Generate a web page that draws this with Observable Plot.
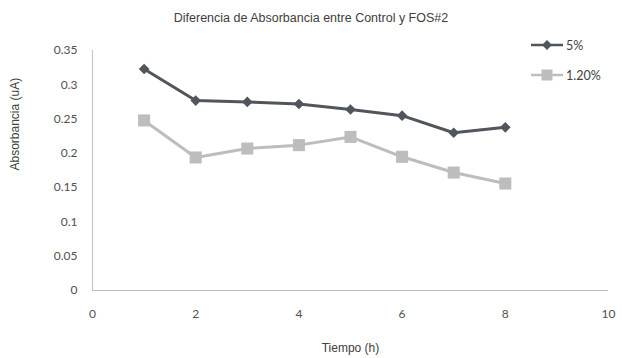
<!DOCTYPE html>
<html>
<head>
<meta charset="utf-8">
<script src="https://cdn.jsdelivr.net/npm/d3@7"></script>
<script src="https://cdn.jsdelivr.net/npm/@observablehq/plot@0.6"></script>
<style>
  html, body { margin: 0; padding: 0; background: #fff; }
  #chart { position: relative; width: 622px; height: 358px; font-family: "Liberation Sans", Arial, sans-serif; }
  #chart svg.plot { position: absolute; left: 0; top: 0; }
  .title { position: absolute; left: 0; width: 622px; top: 11px; text-align: center; font-size: 12.5px; color: #404040; }
  .legend { position: absolute; left: 531px; top: 36px; font-family: Lato, "Open Sans", sans-serif; font-size: 12.5px; color: #404040; }
  .legend div { display: flex; align-items: center; height: 18px; margin-bottom: 12px; }
  .legend svg { margin-right: 3px; }
</style>
</head>
<body>
<div id="chart"></div>
<script>
// Time points (hours) and absorbance difference for each concentration
const hours = [1, 2, 3, 4, 5, 6, 7, 8];
const abs5 = [0.323, 0.277, 0.275, 0.272, 0.264, 0.255, 0.230, 0.238];
const abs120 = [0.248, 0.194, 0.207, 0.212, 0.224, 0.195, 0.172, 0.156];
const seriesNames = ["5%", "1.20%"];
const seriesColors = ["#50565c", "#bdbdbf"];
const seriesSymbols = ["diamond2", "square"];
const xTicks = [0, 2, 4, 6, 8, 10];
const yTicks = [0, 0.05, 0.1, 0.15, 0.2, 0.25, 0.3, 0.35];

const rows = [
  ...hours.map((h, i) => ({hora: h, valor: abs5[i], serie: seriesNames[0]})),
  ...hours.map((h, i) => ({hora: h, valor: abs120[i], serie: seriesNames[1]}))
];

const fmt = d => d === 0 ? "0" : String(+d.toFixed(2));

const plot = Plot.plot({
  width: 622,
  height: 358,
  marginLeft: 92,
  marginRight: 14,
  marginTop: 50,
  marginBottom: 68,
  style: {fontFamily: "Lato, 'Open Sans', sans-serif", fontSize: "12px", color: "#505050", background: "#fff"},
  x: {domain: [0, 10], ticks: xTicks, tickSize: 0, tickPadding: 19, label: null},
  y: {domain: [0, 0.35], ticks: yTicks, tickSize: 0, tickPadding: 15, tickFormat: fmt, label: null},
  color: {domain: seriesNames, range: seriesColors},
  symbol: {domain: seriesNames, range: seriesSymbols},
  marks: [
    Plot.ruleY([0], {stroke: "#bfbfbf", strokeWidth: 1.2}),
    Plot.ruleX([0], {stroke: "#c8c8c8", strokeWidth: 1.2}),
    Plot.axisX({tickSize: 0, tickPadding: 19, ticks: xTicks, label: null, fill: "#505050"}),
    Plot.axisY({tickSize: 0, tickPadding: 15, ticks: yTicks, tickFormat: fmt, label: null, fill: "#505050"}),
    Plot.line(rows, {x: "hora", y: "valor", z: "serie", stroke: "serie", strokeWidth: 3, curve: "linear"}),
    Plot.dot(rows.filter(d => d.serie === seriesNames[0]), {x: "hora", y: "valor", symbol: "serie", fill: "serie", r: 4.8}),
    Plot.dot(rows.filter(d => d.serie === seriesNames[1]), {x: "hora", y: "valor", symbol: "serie", fill: "serie", r: 6.8}),
    Plot.text(["Tiempo (h)"], {frameAnchor: "bottom", dy: 61, fontSize: 12, fill: "#404040", fontFamily: "Liberation Sans, Arial, sans-serif"}),
    Plot.text(["Absorbancia (uA)"], {frameAnchor: "left", dx: -77, rotate: -90, fontSize: 12, fill: "#404040", fontFamily: "Liberation Sans, Arial, sans-serif"})
  ]
});
plot.classList.add("plot");

const chart = document.getElementById("chart");
chart.appendChild(plot);

const title = document.createElement("div");
title.className = "title";
title.textContent = "Diferencia de Absorbancia entre Control y FOS#2";
chart.appendChild(title);

// Legend: line sample with marker, then the series name
const legend = document.createElement("div");
legend.className = "legend";
seriesNames.forEach((name, i) => {
  const item = document.createElement("div");
  const sym = d3.create("svg").attr("width", 32).attr("height", 18);
  sym.append("line").attr("x1", 0).attr("x2", 32).attr("y1", 9).attr("y2", 9)
    .attr("stroke", seriesColors[i]).attr("stroke-width", 2.5);
  const symType = i === 0 ? d3.symbolDiamond2 : d3.symbolSquare;
  const size = i === 0 ? Math.PI * 4.5 * 4.5 : Math.PI * 6.2 * 6.2;
  sym.append("path").attr("d", d3.symbol(symType, size)()).attr("transform", "translate(16,9)")
    .attr("fill", seriesColors[i]);
  item.appendChild(sym.node());
  const label = document.createElement("span");
  label.textContent = name;
  item.appendChild(label);
  legend.appendChild(item);
});
chart.appendChild(legend);
</script>
</body>
</html>
